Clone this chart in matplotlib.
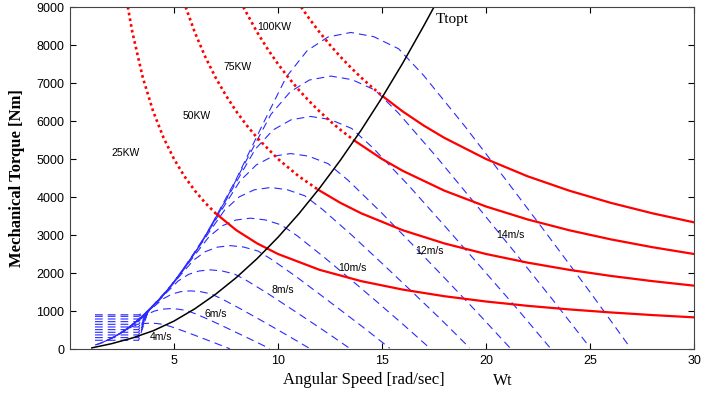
import matplotlib
matplotlib.use("Agg")
import matplotlib.pyplot as plt

# ---- wind speed curves (torque vs rotor speed) ----
wind_speeds = [4, 5, 6, 7, 8, 9, 10, 11, 12, 13, 14]

w_4 = [1.2, 1.43, 1.86, 2.29, 2.66, 2.97, 3.26, 3.54, 3.86, 4.17, 4.51, 4.86, 5.43, 6.0, 6.57, 7.14, 7.69]
t_4 = [105, 143, 242, 366, 486, 584, 641, 670, 680, 671, 645, 588, 478, 361, 242, 122, 5]
w_5 = [1.25, 1.79, 2.32, 2.86, 3.32, 3.71, 4.07, 4.43, 4.82, 5.21, 5.64, 6.07, 6.79, 7.5, 8.21, 8.93, 9.61]
t_5 = [110, 223, 378, 571, 759, 913, 1001, 1047, 1063, 1048, 1008, 918, 746, 564, 379, 191, 8]
w_6 = [1.5, 2.14, 2.79, 3.43, 3.99, 4.46, 4.89, 5.31, 5.79, 6.26, 6.77, 7.29, 8.14, 9.0, 9.86, 10.71, 11.53]
t_6 = [158, 321, 544, 823, 1093, 1315, 1442, 1508, 1530, 1510, 1451, 1322, 1074, 812, 545, 276, 11]
w_7 = [1.75, 2.5, 3.25, 4.0, 4.65, 5.2, 5.7, 6.2, 6.75, 7.3, 7.9, 8.5, 9.5, 10.5, 11.5, 12.5, 13.45]
t_7 = [215, 438, 740, 1120, 1488, 1790, 1963, 2053, 2083, 2055, 1975, 1800, 1463, 1105, 743, 375, 15]
w_8 = [2.0, 2.86, 3.71, 4.57, 5.31, 5.94, 6.51, 7.09, 7.71, 8.34, 9.03, 9.71, 10.86, 12.0, 13.14, 14.29, 15.37]
t_8 = [281, 571, 967, 1463, 1943, 2338, 2563, 2681, 2720, 2684, 2580, 2351, 1910, 1443, 970, 490, 20]
w_9 = [2.25, 3.21, 4.18, 5.14, 5.98, 6.69, 7.33, 7.97, 8.68, 9.39, 10.16, 10.93, 12.21, 13.5, 14.79, 16.07, 17.29]
t_9 = [355, 723, 1223, 1851, 2459, 2959, 3244, 3393, 3443, 3397, 3265, 2976, 2418, 1827, 1227, 620, 25]
w_10 = [2.5, 3.57, 4.64, 5.71, 6.64, 7.43, 8.14, 8.86, 9.64, 10.43, 11.29, 12.14, 13.57, 15.0, 16.43, 17.86, 19.21]
t_10 = [439, 893, 1510, 2286, 3036, 3653, 4005, 4189, 4250, 4194, 4031, 3673, 2985, 2255, 1515, 765, 31]
w_11 = [2.75, 3.93, 5.11, 6.29, 7.31, 8.17, 8.96, 9.74, 10.61, 11.47, 12.41, 13.36, 14.93, 16.5, 18.07, 19.64, 21.14]
t_11 = [531, 1080, 1827, 2766, 3673, 4420, 4846, 5069, 5143, 5075, 4877, 4445, 3611, 2729, 1834, 926, 37]
w_12 = [3.0, 4.29, 5.57, 6.86, 7.97, 8.91, 9.77, 10.63, 11.57, 12.51, 13.54, 14.57, 16.29, 18.0, 19.71, 21.43, 23.06]
t_12 = [632, 1286, 2175, 3291, 4371, 5260, 5767, 6032, 6120, 6039, 5804, 5290, 4298, 3247, 2182, 1102, 44]
w_13 = [3.25, 4.64, 6.04, 7.43, 8.64, 9.66, 10.59, 11.51, 12.54, 13.56, 14.67, 15.79, 17.64, 19.5, 21.36, 23.21, 24.98]
t_13 = [742, 1509, 2552, 3863, 5130, 6174, 6769, 7079, 7182, 7088, 6812, 6208, 5044, 3811, 2561, 1293, 52]
w_14 = [3.5, 5.0, 6.5, 8.0, 9.3, 10.4, 11.4, 12.4, 13.5, 14.6, 15.8, 17.0, 19.0, 21.0, 23.0, 25.0, 26.9]
t_14 = [860, 1750, 2960, 4480, 5950, 7160, 7850, 8210, 8330, 8220, 7900, 7200, 5850, 4420, 2970, 1500, 60]

wind_w = [w_4, w_5, w_6, w_7, w_8, w_9, w_10, w_11, w_12, w_13, w_14]
wind_t = [t_4, t_5, t_6, t_7, t_8, t_9, t_10, t_11, t_12, t_13, t_14]

# flat low-speed segments at the far left
plateau_w = [1.2, 3.3, 3.75]
plateau_levels = [230, 300, 370, 440, 510, 580, 650, 720, 790, 860, 900]
plateau_end_t = 985

# ---- constant power curves (dotted left of Ttopt, solid right of it) ----
p25_dot_w = [2.78, 3, 3.5, 4, 4.5, 5, 5.5, 6, 6.5, 7.0]
p25_dot_t = [9000, 8333, 7143, 6250, 5556, 5000, 4545, 4167, 3846, 3571]
p25_w = [7, 8, 9, 10, 12, 14, 16, 18, 20, 22, 24, 26, 28, 30]
p25_t = [3571, 3125, 2778, 2500, 2083, 1786, 1563, 1389, 1250, 1136, 1042, 962, 893, 833]

p50_dot_w = [5.56, 6, 6.5, 7, 7.5, 8, 8.5, 9, 10, 11, 11.94]
p50_dot_t = [9000, 8333, 7692, 7143, 6667, 6250, 5882, 5556, 5000, 4545, 4188]
p50_w = [11.94, 13, 14, 16, 18, 20, 22, 24, 26, 28, 30]
p50_t = [4188, 3846, 3571, 3125, 2778, 2500, 2273, 2083, 1923, 1786, 1667]

p75_dot_w = [8.33, 9, 9.5, 10, 10.5, 11, 11.5, 12, 12.5, 13, 13.66]
p75_dot_t = [9000, 8333, 7895, 7500, 7143, 6818, 6522, 6250, 6000, 5769, 5490]
p75_w = [13.66, 15, 16, 18, 20, 22, 24, 26, 28, 30]
p75_t = [5490, 5000, 4688, 4167, 3750, 3409, 3125, 2885, 2679, 2500]

p100_dot_w = [11.11, 11.5, 12, 12.5, 13, 13.5, 14, 14.5, 15.04]
p100_dot_t = [9000, 8696, 8333, 8000, 7692, 7407, 7143, 6897, 6649]
p100_w = [15.04, 16, 17, 18, 20, 22, 24, 26, 28, 30]
p100_t = [6649, 6250, 5882, 5556, 5000, 4545, 4167, 3846, 3571, 3333]

# ---- optimal torque curve ----
topt_w = [1.05, 2, 3, 4, 5, 6, 7, 8, 9, 10, 11, 12, 13, 14, 15, 16, 17, 17.5]
topt_t = [30, 140, 290, 480, 735, 1058, 1441, 1882, 2381, 2940, 3557, 4234, 4969, 5762, 6615, 7526, 8497, 9000]

power_labels = ["25KW", "50KW", "75KW", "100KW"]
power_label_pos = [(2.0, 5160), (5.4, 6130), (7.4, 7420), (9.0, 8470)]
speed_labels = ["4m/s", "6m/s", "8m/s", "10m/s", "12m/s", "14m/s"]
speed_label_pos = [(3.85, 315), (6.45, 920), (9.7, 1550), (12.9, 2130), (16.6, 2580), (20.5, 3000)]

fig = plt.figure(figsize=(7.23, 3.94), dpi=100)
ax = fig.add_axes([70 / 723, 45 / 394, 624 / 723, 342 / 394])

blue = "#2a2aff"
for w, t in zip(wind_w, wind_t):
    ax.plot(w, t, color=blue, lw=0.8, dashes=(7, 4.5))
for h in plateau_levels:
    ax.plot(plateau_w, [h, h, plateau_end_t], color=blue, lw=0.8, dashes=(7, 4.5))

red = "#ff0000"
for dw, dt, sw, st in [(p25_dot_w, p25_dot_t, p25_w, p25_t),
                       (p50_dot_w, p50_dot_t, p50_w, p50_t),
                       (p75_dot_w, p75_dot_t, p75_w, p75_t),
                       (p100_dot_w, p100_dot_t, p100_w, p100_t)]:
    ax.plot(dw, dt, color=red, lw=1.9, linestyle=(0, (1, 1.2)))
    ax.plot(sw, st, color=red, lw=1.6)

ax.plot(topt_w, topt_t, color="black", lw=1.1)

for lab, (x, y) in zip(power_labels, power_label_pos):
    ax.text(x, y, lab, fontsize=7.5, family="Liberation Sans", ha="left", va="center")
for lab, (x, y) in zip(speed_labels, speed_label_pos):
    ax.text(x, y, lab, fontsize=7.5, family="Liberation Sans", ha="left", va="center")

ax.text(17.6, 8680, "Ttopt", fontsize=11, family="Liberation Serif", ha="left", va="center")
ax.text(20.8, -850, "Wt", fontsize=11.5, family="Liberation Serif", ha="center", va="center",
        clip_on=False)

ax.set_xlim(0, 30)
ax.set_ylim(0, 9000)
ax.set_xticks([5, 10, 15, 20, 25, 30])
ax.set_yticks(range(0, 9001, 1000))
ax.tick_params(direction="in", length=4, width=0.8, top=True, right=True,
               labelsize=9, pad=4)
for lab in ax.get_xticklabels() + ax.get_yticklabels():
    lab.set_family("Liberation Sans")
for sp in ax.spines.values():
    sp.set_linewidth(0.8)
    sp.set_color("#444444")

ax.set_xlabel("Angular Speed [rad/sec]", fontsize=12, family="Liberation Serif")
ax.xaxis.set_label_coords((364 - 70) / 624, -0.068)
ax.set_ylabel("Mechanical Torque [Nm]", fontsize=12, family="Liberation Serif",
              fontweight="bold")
ax.yaxis.set_label_coords(-0.072, 0.5)

fig.savefig("out.png", dpi=100)
